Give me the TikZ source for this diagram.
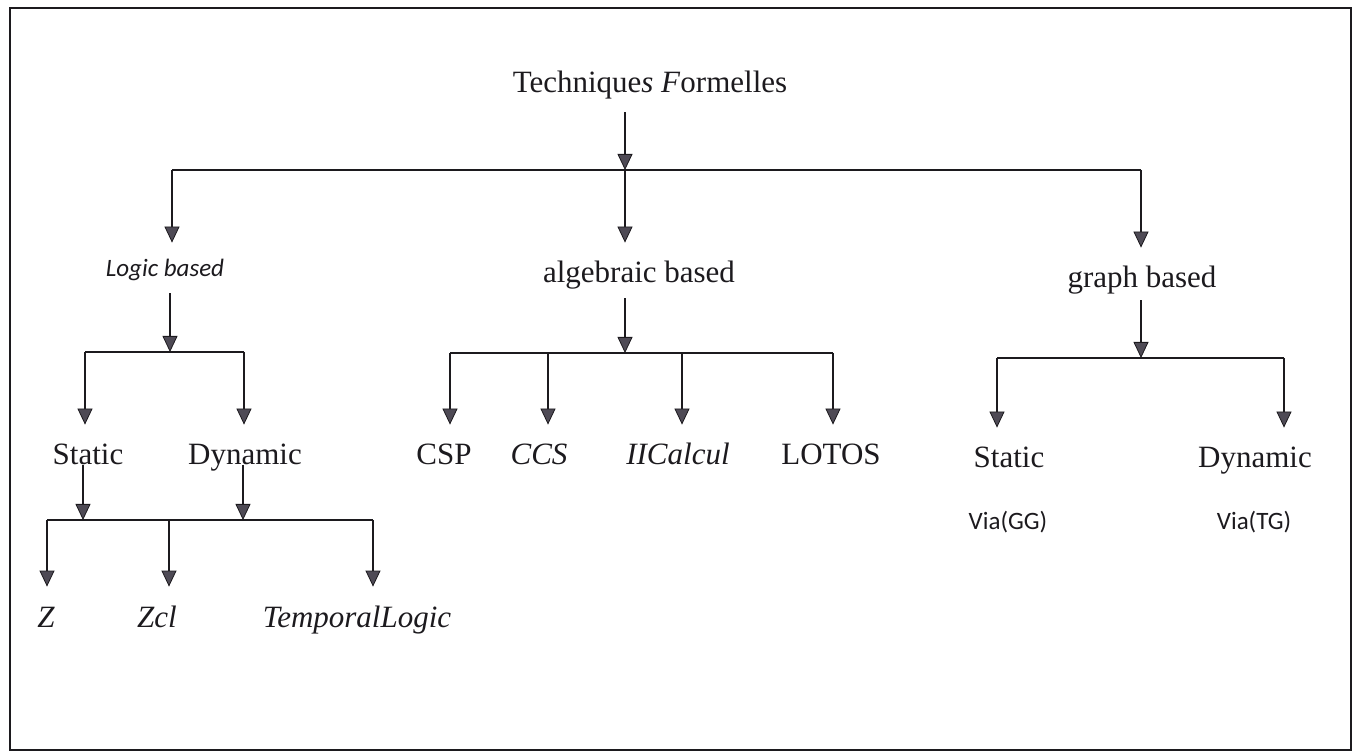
\documentclass[tikz,border=0pt]{standalone}
\usepackage{fontspec}
\setmainfont{Liberation Serif}
\newfontfamily\calib{Carlito}
\usetikzlibrary{arrows.meta}
\definecolor{ink}{HTML}{1C1A1E}
\definecolor{tipgray}{HTML}{4E4A55}
\begin{document}
\begin{tikzpicture}[x=0.5pt,y=-0.5pt,
  lbl/.style={anchor=base, inner sep=0pt, text height=11pt, text depth=3pt,
    font=\fontsize{15.5}{18}\selectfont, text=ink},
  sanslbl/.style={anchor=base, inner sep=0pt, text height=8pt, text depth=3pt,
    font=\calib\fontsize{12.5}{15}\selectfont, text=ink},
  note/.style={anchor=base, inner sep=0pt, font=\calib\fontsize{12.5}{15}\selectfont, text=ink},
  wire/.style={line width=1.3pt, draw=ink},
  arr/.style={wire, -{Triangle[length=8pt,width=7.5pt,fill=tipgray,line width=0.4pt]}},
  down/.style={arr, shorten >=9pt},
  frame/.style={line width=1.1pt, draw=ink}]
\useasboundingbox (0,0) rectangle (1355,753);
\draw[frame] (10,8) rectangle (1351,750);

% root
\node[lbl] (root) at (650,93) {Technique\textit{s F}ormelles};

% first level
\node[sanslbl] (logic) at (165,277) {\itshape Logic based};
\node[lbl] (alg) at (639,283) {algebraic based};
\node[lbl] (graph) at (1142,288) {graph based};

\coordinate (t0)  at (625,170);
\coordinate (t0L) at (172,170);
\coordinate (t0R) at (1141,170);
\draw[wire] (t0L) -- (t0R);
\draw[arr, shorten <=6.5pt] (root.south -| t0) -- (t0);
\draw[down] (t0L) -- (t0L |- logic.north);
\draw[down] (t0) -- (t0 |- alg.north);
\draw[down] (t0R) -- (t0R |- graph.north);

% logic based branch
\node[lbl] (lst) at (88,465) {Static};
\node[lbl] (ldy) at (245,465) {Dynamic};
\coordinate (b1)  at (170,352);
\coordinate (b1L) at (85,352);
\coordinate (b1R) at (244,352);
\draw[wire] (b1L) -- (b1R);
\draw[arr, shorten <=5pt] (logic.south -| b1) -- (b1);
\draw[down] (b1L) -- (b1L |- lst.north);
\draw[down] (b1R) -- (b1R |- ldy.north);

\node[lbl] (z)   at (46,627)  {\itshape Z};
\node[lbl] (zcl) at (157,627) {\itshape Zcl};
\node[lbl] (tl)  at (357,627) {\itshape TemporalLogic};
\coordinate (b3L) at (47,520);
\coordinate (b3s) at (83,520);
\coordinate (b3m) at (169,520);
\coordinate (b3d) at (243,520);
\coordinate (b3R) at (373,520);
\draw[wire] (b3L) -- (b3R);
\draw[arr] (b3s |- lst.base) -- (b3s);
\draw[arr] (b3d |- ldy.base) -- (b3d);
\draw[down] (b3L) -- (b3L |- z.north);
\draw[down] (b3m) -- (b3m |- zcl.north);
\draw[down] (b3R) -- (b3R |- tl.north);

% algebraic based branch
\node[lbl] (csp)   at (444,465) {CSP};
\node[lbl] (ccs)   at (539,465) {\itshape CCS};
\node[lbl] (pic)   at (678,465) {\itshape IICalcul};
\node[lbl] (lotos) at (831,465) {LOTOS};
\coordinate (b2)  at (625,353);
\coordinate (b2a) at (450,353);
\coordinate (b2b) at (548,353);
\coordinate (b2c) at (682,353);
\coordinate (b2d) at (833,353);
\draw[wire] (b2a) -- (b2d);
\draw[arr, shorten <=4.5pt] (alg.south -| b2) -- (b2);
\draw[down] (b2a) -- (b2a |- csp.north);
\draw[down] (b2b) -- (b2b |- ccs.north);
\draw[down] (b2c) -- (b2c |- pic.north);
\draw[down] (b2d) -- (b2d |- lotos.north);

% graph based branch
\node[lbl] (gst) at (1009,468) {Static};
\node[lbl] (gdy) at (1255,468) {Dynamic};
\node[note] (vgg) at (1008,530) {Via(GG)};
\node[note] (vtg) at (1254,530) {Via(TG)};
\coordinate (b4)  at (1141,358);
\coordinate (b4L) at (997,358);
\coordinate (b4R) at (1284,358);
\draw[wire] (b4L) -- (b4R);
\draw[arr, shorten <=3pt] (graph.south -| b4) -- (b4);
\draw[down] (b4L) -- (b4L |- gst.north);
\draw[down] (b4R) -- (b4R |- gdy.north);
\end{tikzpicture}
\end{document}
